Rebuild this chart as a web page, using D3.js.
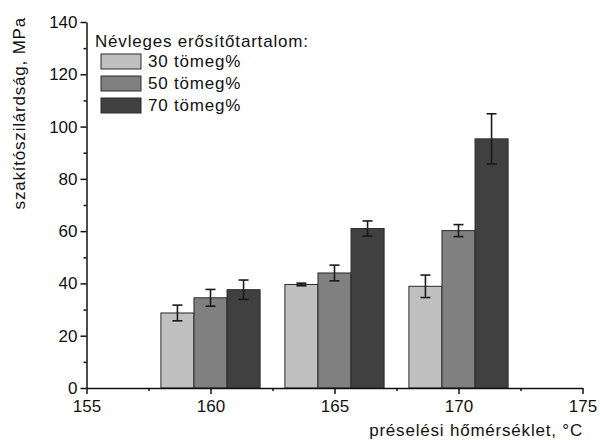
<!DOCTYPE html>
<html>
<head>
<meta charset="utf-8">
<script src="https://cdn.jsdelivr.net/npm/d3@7"></script>
<style>
body { margin: 0; background: #fff; }
text { font-family: "Liberation Sans", Arial, sans-serif; }
</style>
</head>
<body>
<div id="chart"></div>
<script>
var temperatures = [160, 165, 170];
var seriesNames = ["30 tömeg%", "50 tömeg%", "70 tömeg%"];
var means30 = [28.7, 39.6, 38.9];
var errors30 = [3.0, 0.5, 4.3];
var means50 = [34.5, 44.0, 60.2];
var errors50 = [3.2, 3.0, 2.3];
var means70 = [37.6, 61.0, 95.3];
var errors70 = [3.7, 2.9, 9.6];
var xTicks = [155, 160, 165, 170, 175];
var xMinorTicks = [157.5, 162.5, 167.5, 172.5];
var yTicks = [0, 20, 40, 60, 80, 100, 120, 140];
var yMinorTicks = [10, 30, 50, 70, 90, 110, 130];

var w = 600;
var h = 440;
var colors = ["#c0c0c0", "#808080", "#404040"];
var groupWidth = 4; // in °C
var textSpacing = "0.8px";

var series = [
	{ name: seriesNames[0], means: means30, errors: errors30 },
	{ name: seriesNames[1], means: means50, errors: errors50 },
	{ name: seriesNames[2], means: means70, errors: errors70 }
];

var svg = d3.select("#chart")
			.append("svg")
			.attr("width", w)
			.attr("height", h);

var xScale = d3.scaleLinear()
				.domain([155, 175])
				.range([86.5, 582.5]);

var yScale = d3.scaleLinear()
				.domain([0, 140])
				.range([388, 22]);

var barW = groupWidth / series.length;

// bars
var groups = svg.selectAll("g.series")
				.data(series)
				.enter()
				.append("g")
				.attr("class", "series")
				.style("fill", function(d, i) { return colors[i]; });

groups.each(function(s, si) {
	var g = d3.select(this);
	var rows = temperatures.map(function(t, j) {
		return { t: t, v: s.means[j], e: s.errors[j], x0: t - groupWidth / 2 + si * barW };
	});

	g.selectAll("rect")
		.data(rows)
		.enter()
		.append("rect")
		.attr("x", function(d) { return xScale(d.x0); })
		.attr("y", function(d) { return yScale(d.v); })
		.attr("width", function(d) { return xScale(d.x0 + barW) - xScale(d.x0); })
		.attr("height", function(d) { return yScale(0) - yScale(d.v); })
		.attr("stroke", "#2a2a2a")
		.attr("stroke-width", 1);

	// error bars
	var eb = g.selectAll("g.err")
		.data(rows)
		.enter()
		.append("g")
		.attr("class", "err")
		.attr("stroke", "#1a1a1a")
		.attr("stroke-width", 1.6);

	eb.append("line")
		.attr("x1", function(d) { return xScale(d.x0 + barW / 2); })
		.attr("x2", function(d) { return xScale(d.x0 + barW / 2); })
		.attr("y1", function(d) { return yScale(d.v + d.e); })
		.attr("y2", function(d) { return yScale(d.v - d.e); });

	eb.selectAll("line.cap")
		.data(function(d) { return [d.v + d.e, d.v - d.e].map(function(y) { return { x: d.x0 + barW / 2, y: y }; }); })
		.enter()
		.append("line")
		.attr("class", "cap")
		.attr("x1", function(d) { return xScale(d.x) - 5; })
		.attr("x2", function(d) { return xScale(d.x) + 5; })
		.attr("y1", function(d) { return yScale(d.y); })
		.attr("y2", function(d) { return yScale(d.y); });
});

// axes
var xAxis = svg.append("g")
				.attr("transform", "translate(0," + yScale(0) + ")")
				.call(d3.axisBottom(xScale).tickValues(xTicks).tickSize(6).tickSizeOuter(0).tickPadding(6));

svg.append("g")
	.attr("transform", "translate(0," + yScale(0) + ")")
	.call(d3.axisBottom(xScale).tickValues(xMinorTicks).tickSize(3).tickFormat(""))
	.select(".domain").remove();

var yAxis = svg.append("g")
				.attr("transform", "translate(" + xScale(155) + ",0)")
				.call(d3.axisLeft(yScale).tickValues(yTicks).tickSize(6).tickSizeOuter(0).tickPadding(3));

svg.append("g")
	.attr("transform", "translate(" + xScale(155) + ",0)")
	.call(d3.axisLeft(yScale).tickValues(yMinorTicks).tickSize(3).tickFormat(""))
	.select(".domain").remove();

svg.selectAll(".tick text")
	.style("font-size", "17px")
	.attr("fill", "#111");
svg.selectAll(".domain, .tick line")
	.attr("stroke", "#111")
	.attr("stroke-width", 1.5);

// axis titles
svg.append("text")
	.attr("x", 583)
	.attr("y", 436)
	.attr("text-anchor", "end")
	.style("font-size", "17px")
	.style("letter-spacing", textSpacing)
	.attr("fill", "#111")
	.text("préselési hőmérséklet, °C");

svg.append("text")
	.attr("transform", "translate(25,17) rotate(-90)")
	.attr("text-anchor", "end")
	.style("font-size", "17px")
	.style("letter-spacing", textSpacing)
	.attr("fill", "#111")
	.text("szakítószilárdság, MPa");

// legend
var legend = svg.append("g");

legend.append("text")
	.attr("x", 95)
	.attr("y", 47)
	.style("font-size", "17px")
	.style("letter-spacing", textSpacing)
	.attr("fill", "#111")
	.text("Névleges erősítőtartalom:");

var items = legend.selectAll("g.item")
				.data(series)
				.enter()
				.append("g")
				.attr("class", "item")
				.attr("transform", function(d, i) { return "translate(101," + (54 + i * 22) + ")"; });

items.append("rect")
	.attr("width", 40)
	.attr("height", 15)
	.attr("fill", function(d, i) { return colors[i]; })
	.attr("stroke", "#2a2a2a")
	.attr("stroke-width", 1);

items.append("text")
	.attr("x", 47)
	.attr("y", 13)
	.style("font-size", "17px")
	.style("letter-spacing", textSpacing)
	.attr("fill", "#111")
	.text(function(d) { return d.name; });
</script>
</body>
</html>
